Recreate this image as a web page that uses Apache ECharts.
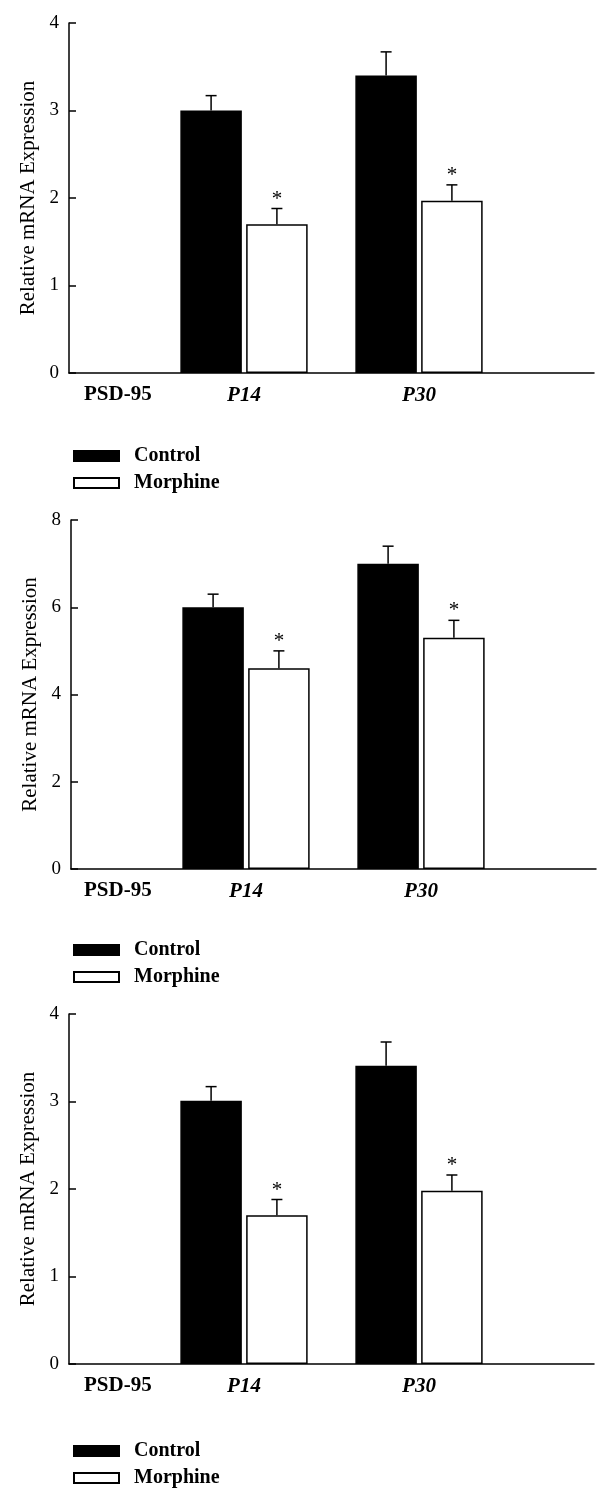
<!DOCTYPE html>
<html>
<head>
<meta charset="utf-8">
<script src="https://cdn.jsdelivr.net/npm/echarts@6/dist/echarts.min.js"></script>
<style>
  html, body { margin: 0; padding: 0; background: #fff; }
  #chart { width: 606px; height: 1500px; }
</style>
</head>
<body>
<div id="chart"></div>
<script>
// ---------------- data ----------------
const geneName = 'PSD-95';
const groups = ['P14', 'P30'];
const seriesNames = ['Control', 'Morphine'];
const yAxisTitle = 'Relative mRNA Expression';

// Panel 1
const p1Control = [3.00, 3.40];
const p1ControlErr = [0.17, 0.27];
const p1Morphine = [1.70, 1.97];
const p1MorphineErr = [0.18, 0.18];
const p1Sig = [1, 1];
const p1Ticks = [0, 1, 2, 3, 4];

// Panel 2
const p2Control = [6.0, 7.0];
const p2ControlErr = [0.30, 0.40];
const p2Morphine = [4.6, 5.3];
const p2MorphineErr = [0.40, 0.40];
const p2Sig = [1, 1];
const p2Ticks = [0, 2, 4, 6, 8];

// Panel 3
const p3Control = [3.01, 3.41];
const p3ControlErr = [0.16, 0.27];
const p3Morphine = [1.70, 1.98];
const p3MorphineErr = [0.18, 0.18];
const p3Sig = [1, 1];
const p3Ticks = [0, 1, 2, 3, 4];

// ---------------- layout / style ----------------
const FONT = "'Liberation Serif', 'Times New Roman', serif";
const BAR_W = 61.5;
const GAP_RATIO = 0.07;
const BAR_OFFSET = (BAR_W + BAR_W * GAP_RATIO) / 2;
const categories = [''].concat(groups, ['']);

const panels = [
  { control: p1Control, cErr: p1ControlErr, morphine: p1Morphine, mErr: p1MorphineErr, sig: p1Sig, ticks: p1Ticks,
    grid: { left: 69, top: 23, width: 525, height: 350 }, legendTop: 441 },
  { control: p2Control, cErr: p2ControlErr, morphine: p2Morphine, mErr: p2MorphineErr, sig: p2Sig, ticks: p2Ticks,
    grid: { left: 71, top: 520, width: 525, height: 349 }, legendTop: 935 },
  { control: p3Control, cErr: p3ControlErr, morphine: p3Morphine, mErr: p3MorphineErr, sig: p3Sig, ticks: p3Ticks,
    grid: { left: 69, top: 1014, width: 525, height: 350 }, legendTop: 1436 }
];

function toCatData(vals) {
  const arr = categories.map(() => '-');
  groups.forEach((g, i) => { arr[i + 1] = vals[i]; });
  return arr;
}

function errRender(params, api) {
  const xi = api.value(0), v = api.value(1), e = api.value(2), which = api.value(3), sig = api.value(4);
  const base = api.coord([xi, v]);
  const top = api.coord([xi, v + e]);
  const x = base[0] + (which === 0 ? -1 : 1) * BAR_OFFSET;
  const children = [
    { type: 'line', shape: { x1: x, y1: base[1], x2: x, y2: top[1] }, style: { stroke: '#000', lineWidth: 1.5 } },
    { type: 'line', shape: { x1: x - 5.5, y1: top[1], x2: x + 5.5, y2: top[1] }, style: { stroke: '#000', lineWidth: 1.5 } }
  ];
  if (sig) {
    children.push({ type: 'text', style: { text: '*', x: x, y: top[1] + 1, align: 'center', verticalAlign: 'bottom',
      font: '21px ' + FONT, fill: '#000' } });
  }
  return { type: 'group', children: children };
}

const option = {
  backgroundColor: '#fff',
  animation: false,
  title: [], grid: [], xAxis: [], yAxis: [], legend: [], series: []
};

panels.forEach((p, k) => {
  const g = p.grid;
  option.grid.push(g);
  option.title.push({
    text: geneName, left: 79, top: g.top + g.height + 6,
    textStyle: { fontFamily: FONT, fontSize: 21, fontWeight: 'bold', color: '#000' }
  });
  option.xAxis.push({
    type: 'category', gridIndex: k, data: categories, boundaryGap: false,
    axisLine: { lineStyle: { color: '#000', width: 1.5 } },
    axisTick: { show: false },
    axisLabel: { interval: 0, margin: 12, color: '#000', fontFamily: FONT, fontSize: 21,
      fontWeight: 'bold', fontStyle: 'italic' },
    splitLine: { show: false }
  });
  const t = p.ticks;
  option.yAxis.push({
    type: 'value', gridIndex: k, min: t[0], max: t[t.length - 1], interval: t[1] - t[0],
    name: yAxisTitle, nameLocation: 'middle', nameGap: 30,
    nameTextStyle: { fontFamily: FONT, fontSize: 21, color: '#000' },
    axisLine: { show: true, lineStyle: { color: '#000', width: 1.5 } },
    axisTick: { show: true, inside: true, length: 7, lineStyle: { color: '#000', width: 1.5 } },
    axisLabel: { margin: 10, color: '#000', fontFamily: FONT, fontSize: 19 },
    splitLine: { show: false }
  });
  option.legend.push({
    orient: 'vertical', left: 68, top: p.legendTop, itemWidth: 45, itemHeight: 10, itemGap: 7,
    icon: 'rect', selectedMode: false, data: seriesNames,
    textStyle: { fontFamily: FONT, fontSize: 20, fontWeight: 'bold', color: '#000', padding: [0, 0, 0, 10] }
  });
  option.series.push({
    name: seriesNames[0], type: 'bar', xAxisIndex: k, yAxisIndex: k,
    data: toCatData(p.control), barWidth: BAR_W, barGap: (GAP_RATIO * 100) + '%',
    itemStyle: { color: '#000', borderColor: '#000', borderWidth: 1.5 }
  });
  option.series.push({
    name: seriesNames[1], type: 'bar', xAxisIndex: k, yAxisIndex: k,
    data: toCatData(p.morphine), barWidth: BAR_W, barGap: (GAP_RATIO * 100) + '%',
    itemStyle: { color: '#fff', borderColor: '#000', borderWidth: 1.5 }
  });
  const errData = [];
  groups.forEach((gname, i) => {
    errData.push([i + 1, p.control[i], p.cErr[i], 0, 0]);
    errData.push([i + 1, p.morphine[i], p.mErr[i], 1, p.sig[i]]);
  });
  option.series.push({
    type: 'custom', xAxisIndex: k, yAxisIndex: k, renderItem: errRender,
    encode: { x: 0, y: 1 }, data: errData, z: 5, silent: true
  });
});

const chart = echarts.init(document.getElementById('chart'), null, { renderer: 'canvas' });
chart.setOption(option);
</script>
</body>
</html>
